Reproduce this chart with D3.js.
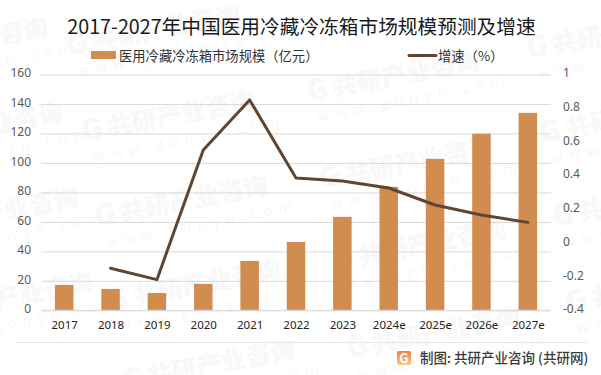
<!DOCTYPE html>
<html>
<head>
<meta charset="utf-8">
<script src="https://cdn.jsdelivr.net/npm/d3@7/dist/d3.min.js"></script>
<style>
  html, body { margin: 0; padding: 0; background: #fff; }
  svg { display: block; font-family: "Noto Sans CJK SC", "Noto Sans", sans-serif; }
</style>
</head>
<body>
<div id="chart"></div>
<script>
var categories = ["2017", "2018", "2019", "2020", "2021", "2022", "2023", "2024e", "2025e", "2026e", "2027e"];
var marketSize = [17.2, 14.5, 11.7, 17.9, 33.5, 46.4, 63.4, 83.8, 102.8, 119.8, 134];
var growthRate = [null, -0.15, -0.218, 0.552, 0.849, 0.386, 0.368, 0.326, 0.225, 0.166, 0.122];
var leftTicks = [0, 20, 40, 60, 80, 100, 120, 140, 160];
var rightTicks = [-0.4, -0.2, 0, 0.2, 0.4, 0.6, 0.8, 1];
var watermarkSpots = [
  [67, 47], [82, 133], [95, 218], [108, 302], [122, 382],
  [307, 93], [320, 180], [333, 262], [347, 350],
  [527, 50], [540, 134], [553, 218], [566, 304],
  [-125, 60], [-110, 145], [-95, 230], [-80, 315]
];

var width = 601, height = 375;
var plot = { left: 41, right: 551, top: 74.5, bottom: 310.3 };
var barColor = "#d18c4f", lineColor = "#5f4632", gridColor = "#d9d9d9";

var svg = d3.select("#chart").append("svg")
  .attr("width", width)
  .attr("height", height);

var logoFill = svg.append("defs").append("linearGradient")
  .attr("id", "logoFill")
  .attr("x1", 0).attr("y1", 0).attr("x2", 0).attr("y2", 1);
logoFill.append("stop").attr("offset", "0%").attr("stop-color", "#ee7f45");
logoFill.append("stop").attr("offset", "100%").attr("stop-color", "#f8c98a");

// faint site watermark behind the chart
var wm = svg.append("g").selectAll("g")
  .data(watermarkSpots)
  .enter().append("g")
  .attr("transform", function (d) { return "translate(" + d[0] + "," + d[1] + ") rotate(-11)"; })
  .attr("fill", "#f8f8f8");

wm.append("text")
  .attr("font-size", 29)
  .attr("font-weight", 900)
  .attr("font-family", "'Noto Sans CJK SC'")
  .attr("y", 9)
  .text("G");

wm.append("text")
  .attr("x", 26)
  .attr("y", 9)
  .attr("font-size", 25)
  .attr("font-weight", 900)
  .attr("font-family", "'Noto Sans CJK SC'")
  .text("共研产业咨询");

wm.append("text")
  .attr("x", 6)
  .attr("y", 31)
  .attr("font-size", 15)
  .attr("letter-spacing", 6)
  .text("www.gonyn.com");

var xCenter = d3.scalePoint()
  .domain(categories)
  .range([plot.left + (plot.right - plot.left) / 22, plot.right - (plot.right - plot.left) / 22]);

var yLeft = d3.scaleLinear().domain([0, 160]).range([plot.bottom, plot.top]);
var yRight = d3.scaleLinear().domain([-0.4, 1]).range([plot.bottom, plot.top]);

// left axis, its ticks double as the gridlines
var leftAxis = svg.append("g")
  .attr("transform", "translate(" + plot.left + ",0)")
  .call(d3.axisLeft(yLeft).tickValues(leftTicks).tickSize(-(plot.right - plot.left)).tickPadding(10));
leftAxis.select(".domain").remove();
leftAxis.selectAll("line").attr("stroke", gridColor).attr("stroke-width", 1);
leftAxis.selectAll("text")
  .attr("fill", "#595959")
  .attr("font-size", 12)
  .attr("font-family", "'Noto Sans', sans-serif")
  .attr("dy", "0.2em");

var rightAxis = svg.append("g")
  .attr("transform", "translate(" + plot.right + ",0)")
  .call(d3.axisRight(yRight).tickValues(rightTicks).tickSize(0).tickPadding(12).tickFormat(function (d) { return d; }));
rightAxis.select(".domain").remove();
rightAxis.selectAll("text")
  .attr("fill", "#595959")
  .attr("font-size", 12)
  .attr("font-family", "'Noto Sans', sans-serif")
  .attr("dy", "0.2em");

var barWidth = 18.5;
svg.append("g").selectAll("rect")
  .data(marketSize)
  .enter().append("rect")
  .attr("x", function (d, i) { return xCenter(categories[i]) - barWidth / 2; })
  .attr("y", function (d) { return yLeft(d); })
  .attr("width", barWidth)
  .attr("height", function (d) { return plot.bottom - yLeft(d); })
  .attr("fill", barColor);

// baseline sits over the bars
svg.append("line")
  .attr("x1", plot.left).attr("x2", plot.right)
  .attr("y1", yLeft(0)).attr("y2", yLeft(0))
  .attr("stroke", gridColor);

var xAxis = svg.append("g")
  .attr("transform", "translate(0," + plot.bottom + ")")
  .call(d3.axisBottom(xCenter).tickSize(0).tickPadding(11));
xAxis.select(".domain").remove();
xAxis.selectAll("text")
  .attr("fill", "#222")
  .attr("font-size", 11.5)
  .attr("font-family", "'Noto Sans', sans-serif");

var line = d3.line()
  .defined(function (d) { return d !== null; })
  .x(function (d, i) { return xCenter(categories[i]); })
  .y(function (d) { return yRight(d); });

svg.append("path")
  .datum(growthRate)
  .attr("d", line)
  .attr("fill", "none")
  .attr("stroke", lineColor)
  .attr("stroke-width", 3)
  .attr("stroke-linecap", "round")
  .attr("stroke-linejoin", "round");

svg.append("text")
  .attr("x", 301.5)
  .attr("y", 33.5)
  .attr("text-anchor", "middle")
  .attr("font-size", 19.7)
  .attr("fill", "#1a1a1a")
  .text("2017-2027年中国医用冷藏冷冻箱市场规模预测及增速");

// legend
svg.append("rect")
  .attr("x", 91).attr("y", 51)
  .attr("width", 25).attr("height", 8)
  .attr("fill", barColor);
svg.append("text")
  .attr("x", 119).attr("y", 61)
  .attr("font-size", 13.3)
  .attr("fill", "#333")
  .text("医用冷藏冷冻箱市场规模（亿元）");
svg.append("line")
  .attr("x1", 409).attr("x2", 436)
  .attr("y1", 55.5).attr("y2", 55.5)
  .attr("stroke", lineColor)
  .attr("stroke-width", 3)
  .attr("stroke-linecap", "round");
svg.append("text")
  .attr("x", 438).attr("y", 61)
  .attr("font-size", 13.3)
  .attr("fill", "#333")
  .text("增速（%）");

// footer
svg.append("line")
  .attr("x1", 15).attr("x2", 587)
  .attr("y1", 342.5).attr("y2", 342.5)
  .attr("stroke", "#e6e6e6");
svg.append("rect")
  .attr("x", 397).attr("y", 351)
  .attr("width", 14).attr("height", 14)
  .attr("rx", 2)
  .attr("fill", "url(#logoFill)");
svg.append("text")
  .attr("x", 404).attr("y", 362.5)
  .attr("text-anchor", "middle")
  .attr("font-size", 13)
  .attr("font-weight", 700)
  .attr("fill", "#fff")
  .text("G");
svg.append("text")
  .attr("x", 420).attr("y", 363)
  .attr("font-size", 13.5)
  .attr("font-weight", 500)
  .attr("fill", "#3a3a3a")
  .text("制图: 共研产业咨询 (共研网)");
</script>
</body>
</html>
